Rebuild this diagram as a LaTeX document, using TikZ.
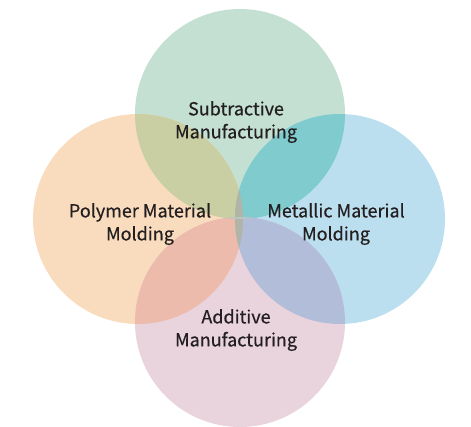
\documentclass[tikz,border=0pt]{standalone}
\usepackage{fontspec}
\setmainfont{Noto Sans CJK KR}[FakeBold=0.5]
\definecolor{cgreen}{HTML}{C3E0D3}
\definecolor{corange}{HTML}{F9DCBE}
\definecolor{cblue}{HTML}{BBDFEE}
\definecolor{cpink}{HTML}{E9D3DC}
\definecolor{cgo}{HTML}{C9CFA2}
\definecolor{cgb}{HTML}{7FCBCE}
\definecolor{cop}{HTML}{EDBBAB}
\definecolor{cbp}{HTML}{B2BDD9}
\definecolor{cgp}{HTML}{B9C5C0}
\definecolor{cob}{HTML}{B0B5A8}
\definecolor{ctext}{HTML}{231F20}
\tikzset{
  lbl/.style={text=ctext, align=center, font=\fontsize{18}{23}\selectfont, inner sep=0pt}
}
\begin{document}
\begin{tikzpicture}[x=1pt,y=-1pt]
\useasboundingbox (0,0) rectangle (471,427);
\def\R{105}
\coordinate (T) at (240,114);
\coordinate (L) at (138,219);
\coordinate (Rt) at (340,219);
\coordinate (B) at (240,322);
\fill[cgreen] (T) circle (\R);
\fill[corange] (L) circle (\R);
\fill[cblue] (Rt) circle (\R);
\fill[cpink] (B) circle (\R);
\begin{scope}\clip (T) circle (\R); \fill[cgo] (L) circle (\R); \end{scope}
\begin{scope}\clip (T) circle (\R); \fill[cgb] (Rt) circle (\R); \end{scope}
\begin{scope}\clip (B) circle (\R); \fill[cop] (L) circle (\R); \end{scope}
\begin{scope}\clip (B) circle (\R); \fill[cbp] (Rt) circle (\R); \end{scope}
\begin{scope}\clip (L) circle (\R); \fill[cob] (Rt) circle (\R); \end{scope}
\begin{scope}\clip (T) circle (\R); \fill[cgp] (B) circle (\R); \end{scope}
\node[lbl] (sub) at (236,122) {Subtractive\\Manufacturing};
\node[lbl] (pol) at (140,224) {Polymer Material\\Molding};
\node[lbl] (met) at (336,224) {Metallic Material\\Molding};
\node[lbl] (add) at (236,330) {Additive\\Manufacturing};
\end{tikzpicture}
\end{document}
